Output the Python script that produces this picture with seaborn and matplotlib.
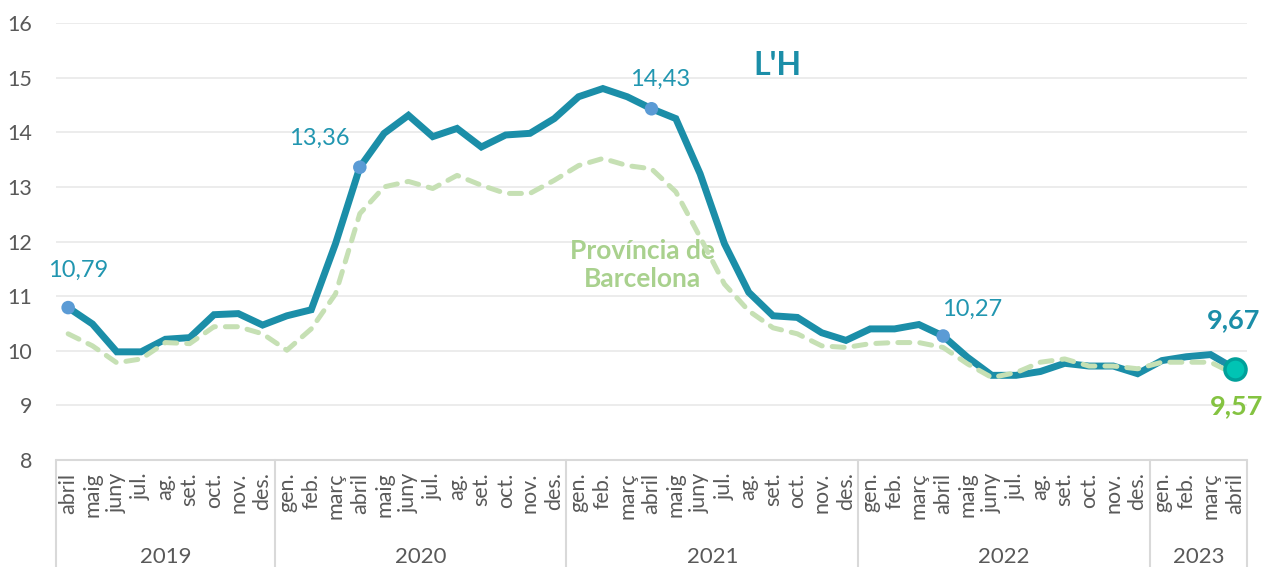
import numpy as np
import pandas as pd
import matplotlib.pyplot as plt
import seaborn as sns

# Month labels (abril 2019 - abril 2023) and year groups
month_labels = ['abril', 'maig', 'juny', 'jul.', 'ag.', 'set.', 'oct.', 'nov.', 'des.',
                'gen.', 'feb.', 'març', 'abril', 'maig', 'juny', 'jul.', 'ag.', 'set.', 'oct.', 'nov.', 'des.',
                'gen.', 'feb.', 'març', 'abril', 'maig', 'juny', 'jul.', 'ag.', 'set.', 'oct.', 'nov.', 'des.',
                'gen.', 'feb.', 'març', 'abril', 'maig', 'juny', 'jul.', 'ag.', 'set.', 'oct.', 'nov.', 'des.',
                'gen.', 'feb.', 'març', 'abril']
years = ['2019', '2020', '2021', '2022', '2023']
year_months = [9, 12, 12, 12, 4]

# L'H series
lh = [10.79, 10.49, 9.98, 9.98, 10.21, 10.24, 10.66, 10.68, 10.47,
      10.64, 10.75, 11.96, 13.36, 13.98, 14.31, 13.92, 14.07, 13.73, 13.95, 13.98, 14.25,
      14.65, 14.80, 14.65, 14.43, 14.25, 13.24, 11.96, 11.07, 10.64, 10.61, 10.33, 10.19,
      10.40, 10.40, 10.48, 10.27, 9.88, 9.55, 9.55, 9.62, 9.77, 9.72, 9.72, 9.58,
      9.82, 9.89, 9.93, 9.67]

# Província de Barcelona series
prov = [10.31, 10.09, 9.78, 9.85, 10.15, 10.13, 10.44, 10.44, 10.31,
        10.01, 10.40, 11.04, 12.51, 13.00, 13.10, 12.97, 13.21, 13.03, 12.88, 12.88, 13.12,
        13.39, 13.52, 13.39, 13.33, 12.91, 12.08, 11.22, 10.73, 10.42, 10.31, 10.09, 10.06,
        10.13, 10.15, 10.15, 10.06, 9.76, 9.51, 9.60, 9.79, 9.85, 9.72, 9.72, 9.67,
        9.79, 9.79, 9.79, 9.57]

# highlighted points (each April)
highlight_idx = [0, 12, 24, 36]

df = pd.DataFrame({'pos': np.arange(len(month_labels)), 'lh': lh, 'prov': prov})

sns.set_theme(style='white')
plt.rcParams['font.family'] = ['Lato', 'DejaVu Sans']

teal = '#1b8ea8'
green_line = '#c6e0b4'
green_text = '#a9d18e'
grey_text = '#595959'
box_grey = '#d9d9d9'

fig = plt.figure(figsize=(12.65, 5.67), dpi=100)
W, H = 1265, 567
left, right, top, bottom = 56, 1247, 23, 460
ax = fig.add_axes([left / W, 1 - bottom / H, (right - left) / W, (bottom - top) / H])

sns.lineplot(data=df, x='pos', y='lh', ax=ax, color=teal, linewidth=5,
             solid_joinstyle='miter', zorder=3)
sns.lineplot(data=df, x='pos', y='prov', ax=ax, color=green_line, linewidth=3.6,
             linestyle=(0, (2.4, 2.0)), dash_capstyle='round', zorder=4)

hl = df.iloc[highlight_idx]
sns.scatterplot(data=hl, x='pos', y='lh', ax=ax, color='#5b9bd5', s=95,
                edgecolor='none', zorder=6)
last = df.iloc[[-1]]
sns.scatterplot(data=last, x='pos', y='lh', ax=ax, color='#00c4b4', s=230,
                edgecolor='#00a09a', linewidth=2.5, zorder=7)

ax.set_xlim(-0.5, len(month_labels) - 0.5)
ax.set_ylim(8, 16)
ax.set_yticks(range(8, 17))
ax.set_xticks(df['pos'])
ax.set_xticklabels(month_labels, rotation=90, ha='center', va='top',
                   fontsize=15.5, color=grey_text)
ax.tick_params(axis='x', length=0, pad=9)
ax.tick_params(axis='y', length=0, pad=17, labelsize=15.5, labelcolor=grey_text)
ax.set_xlabel('')
ax.set_ylabel('')
ax.grid(axis='y', color='#ececec', linewidth=1.4)
ax.grid(axis='x', visible=False)
for s in ax.spines.values():
    s.set_visible(False)

# category box with year groups
tr = ax.get_xaxis_transform()
depth = -(H - bottom) / (bottom - top)
ax.plot([-0.5, len(month_labels) - 0.5], [0, 0], transform=tr, color=box_grey,
        lw=1.5, clip_on=False, zorder=2)
edges = np.concatenate([[0], np.cumsum(year_months)]) - 0.5
for e in edges:
    ax.plot([e, e], [0, depth], transform=tr, color=box_grey, lw=1.5, clip_on=False)
year_y = -(557 - bottom) / (bottom - top)
for y, a, b in zip(years, edges[:-1], edges[1:]):
    ax.text((a + b) / 2, year_y, y, transform=tr, ha='center', va='center',
            fontsize=16, color=grey_text)

# value labels
label_offsets = {0: (7, 27), 12: (-29, 21), 24: (6.5, 21), 36: (21, 19.5)}
for i, (dx, dy) in label_offsets.items():
    ax.annotate(f'{lh[i]:.2f}'.replace('.', ','), (i, lh[i]), xytext=(dx, dy),
                textcoords='offset points', ha='center', va='center',
                fontsize=17, color='#2196b0')
n = len(lh) - 1
ax.annotate(f'{lh[n]:.2f}'.replace('.', ','), (n, lh[n]), xytext=(-1, 35),
            textcoords='offset points', ha='center', va='center',
            fontsize=19.5, fontweight='bold', color=teal, annotation_clip=False)
ax.annotate(f'{prov[n]:.2f}'.replace('.', ','), (n, prov[n]), xytext=(1, -23),
            textcoords='offset points', ha='center', va='center',
            fontsize=19.5, fontweight='bold', color='#84c341', annotation_clip=False)

# series names
ax.text(29.2, 15.23, "L'H", ha='center', va='center', fontsize=23,
        fontweight='bold', color=teal)
ax.text(23.64, 11.57, 'Província de\nBarcelona', ha='center', va='center',
        fontsize=19, fontweight='bold', color=green_text, linespacing=1.2)

fig.savefig('out.png', dpi=100)
